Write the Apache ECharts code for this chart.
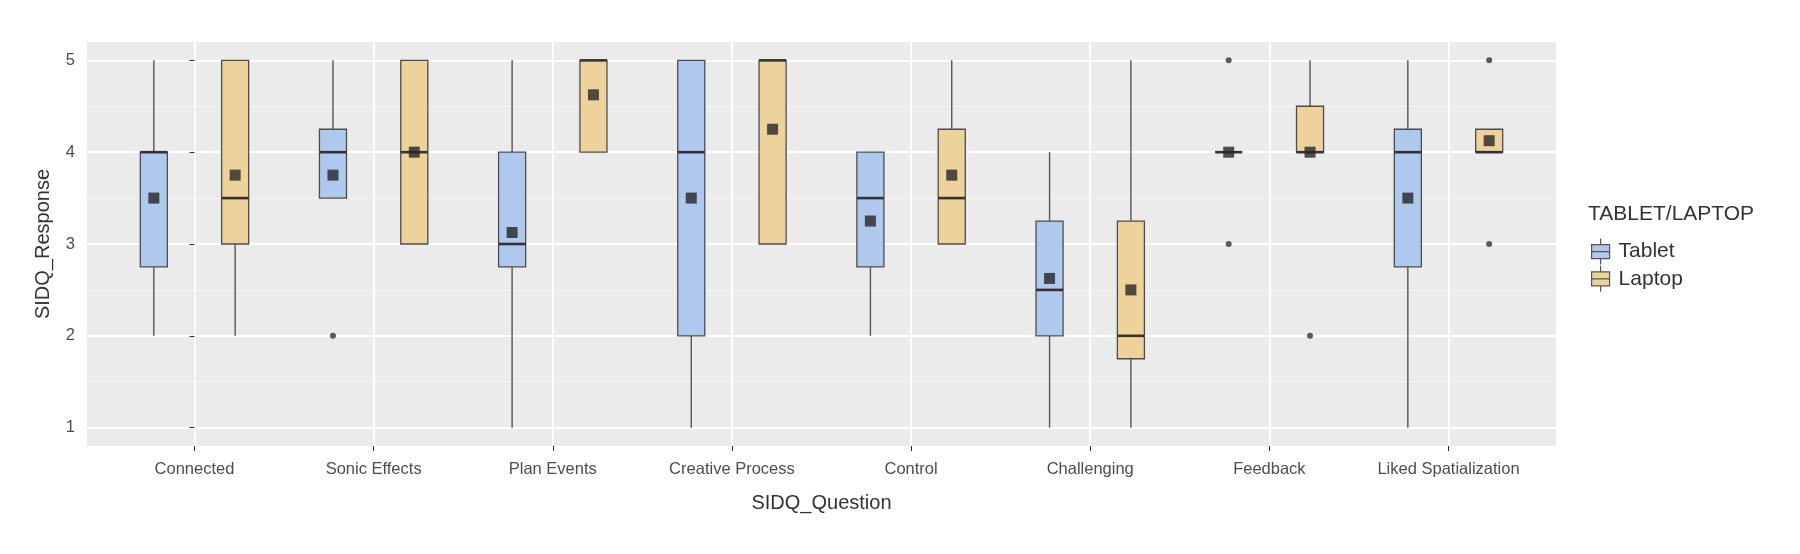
<!DOCTYPE html>
<html lang="en">
<head>
    <meta charset="UTF-8">
    <title>SIDQ boxplot</title>
    <script type="text/javascript" src="https://cdn.jsdelivr.net/npm/echarts@6/dist/echarts.min.js"></script>
    <style>
        html, body { margin: 0; padding: 0; background: #fff; }
        #chart { width: 1800px; height: 554px; }
    </style>
</head>
<body>
<div id="chart"></div>
<script type="text/javascript">
    // questions on the x axis
    var categories = ['Connected', 'Sonic Effects', 'Plan Events', 'Creative Process',
        'Control', 'Challenging', 'Feedback', 'Liked Spatialization'];
    var yTicks = [1, 2, 3, 4, 5];
    var yMinorTicks = [1.5, 2.5, 3.5, 4.5];

    // [lower whisker, Q1, median, Q3, upper whisker]
    var tabletStats = [
        [2, 2.75, 4, 4, 5],
        [3.5, 3.5, 4, 4.25, 5],
        [1, 2.75, 3, 4, 5],
        [1, 2, 4, 5, 5],
        [2, 2.75, 3.5, 4, 4],
        [1, 2, 2.5, 3.25, 4],
        [4, 4, 4, 4, 4],
        [1, 2.75, 4, 4.25, 5]
    ];
    var laptopStats = [
        [2, 3, 3.5, 5, 5],
        [3, 3, 4, 5, 5],
        [4, 4, 5, 5, 5],
        [3, 3, 5, 5, 5],
        [3, 3, 3.5, 4.25, 5],
        [1, 1.75, 2, 3.25, 5],
        [4, 4, 4, 4.5, 5],
        [4, 4, 4, 4.25, 4.25]
    ];
    var tabletMeans = [3.5, 3.75, 3.125, 3.5, 3.25, 2.625, 4, 3.5];
    var laptopMeans = [3.75, 4, 4.625, 4.25, 3.75, 2.5, 4, 4.125];

    // outliers: [category index, value]
    var tabletOutliers = [[1, 2], [6, 5], [6, 3]];
    var laptopOutliers = [[6, 2], [7, 5], [7, 3]];

    var DODGE = 0.227;     // half distance between the two boxes, in category units
    var BOX_W = 0.151;     // box width, in category units
    var TABLET_COLOR = '#afc8ee';
    var LAPTOP_COLOR = '#edd29b';

    function placed(stats, shift) {
        return stats.map(function (s, i) { return [i + shift].concat(s); });
    }
    function placedPoints(list, shift) {
        return list.map(function (p) { return [p[0] + shift, p[1]]; });
    }
    function placedMeans(means, shift) {
        return means.map(function (m, i) { return [i + shift, m]; });
    }

    function renderBox(params, api) {
        var x = api.value(0);
        var lo = api.coord([x, api.value(1)]);
        var q1 = api.coord([x, api.value(2)]);
        var md = api.coord([x, api.value(3)]);
        var q3 = api.coord([x, api.value(4)]);
        var hi = api.coord([x, api.value(5)]);
        var half = api.size([BOX_W, 0])[0] / 2;
        var cx = q1[0];
        var fill = api.visual('color');
        return {
            type: 'group',
            children: [
                { type: 'line', shape: { x1: cx, y1: hi[1], x2: cx, y2: q3[1] },
                    style: { stroke: '#555555', lineWidth: 1.4 } },
                { type: 'line', shape: { x1: cx, y1: q1[1], x2: cx, y2: lo[1] },
                    style: { stroke: '#555555', lineWidth: 1.4 } },
                { type: 'rect', shape: { x: cx - half, y: q3[1], width: half * 2, height: q1[1] - q3[1] },
                    style: { fill: fill, stroke: '#4d4d4d', lineWidth: 1.3 } },
                { type: 'line', shape: { x1: cx - half, y1: md[1], x2: cx + half, y2: md[1] },
                    style: { stroke: '#333333', lineWidth: 2.6 } }
            ]
        };
    }

    var chart = echarts.init(document.getElementById('chart'));
    var option = {
        animation: false,
        backgroundColor: '#ffffff',
        textStyle: { fontFamily: 'Liberation Sans' },
        title: {
            text: 'TABLET/LAPTOP',
            left: 1583,
            top: 199,
            textStyle: { fontSize: 21, fontWeight: 'normal', color: '#333333' }
        },
        legend: {
            orient: 'vertical',
            left: 1586,
            top: 233,
            itemWidth: 20,
            itemHeight: 26,
            itemGap: 0,
            icon: 'path://M10,0 L10,6 M1,6 L19,6 L19,20 L1,20 Z M1,13 L19,13 M10,20 L10,26',
            itemStyle: { borderColor: '#555555', borderWidth: 1.2 },
            textStyle: { fontSize: 21, color: '#333333', padding: [0, 0, 0, 3] },
            data: ['Tablet', 'Laptop']
        },
        grid: {
            left: 87,
            right: 244,
            top: 42,
            bottom: 108,
            show: true,
            backgroundColor: '#ebebeb',
            borderWidth: 0
        },
        xAxis: {
            type: 'value',
            min: -0.6,
            max: 7.6,
            name: 'SIDQ_Question',
            nameLocation: 'middle',
            nameGap: 47,
            nameTextStyle: { fontSize: 20, color: '#333333' },
            axisLine: { show: false },
            axisTick: { show: true, length: 5, lineStyle: { color: '#333333' },
                customValues: categories.map(function (c, i) { return i; }) },
            axisLabel: {
                fontSize: 16.5, color: '#4d4d4d', margin: 15,
                customValues: categories.map(function (c, i) { return i; }),
                formatter: function (v) { return categories[Math.round(v)]; }
            },
            splitLine: { show: true, lineStyle: { color: '#ffffff', width: 2 } }
        },
        yAxis: {
            type: 'value',
            min: 0.8,
            max: 5.2,
            name: 'SIDQ_Response',
            nameLocation: 'middle',
            nameGap: 34,
            nameTextStyle: { fontSize: 20, color: '#333333' },
            axisLine: { show: false },
            axisTick: { show: true, length: 5, lineStyle: { color: '#333333' }, customValues: yTicks },
            axisLabel: { fontSize: 16.5, color: '#4d4d4d', margin: 12, customValues: yTicks },
            splitLine: { show: true, lineStyle: { color: '#ffffff', width: 2 } }
        },
        series: [
            {
                type: 'scatter',
                name: 'minor',
                data: [],
                silent: true,
                z: 1,
                markLine: {
                    silent: true,
                    z: 1,
                    symbol: 'none',
                    label: { show: false },
                    lineStyle: { color: '#f5f5f5', width: 1, type: 'solid' },
                    data: yMinorTicks.map(function (v) { return { yAxis: v }; })
                }
            },
            {
                type: 'custom',
                name: 'Tablet',
                z: 3,
                itemStyle: { color: TABLET_COLOR },
                encode: { x: 0, y: [1, 2, 3, 4, 5] },
                renderItem: renderBox,
                data: placed(tabletStats, -DODGE)
            },
            {
                type: 'custom',
                name: 'Laptop',
                z: 3,
                itemStyle: { color: LAPTOP_COLOR },
                encode: { x: 0, y: [1, 2, 3, 4, 5] },
                renderItem: renderBox,
                data: placed(laptopStats, DODGE)
            },
            {
                type: 'scatter',
                name: 'outliers',
                z: 4,
                symbol: 'circle',
                symbolSize: 6,
                itemStyle: { color: '#333333' },
                data: placedPoints(tabletOutliers, -DODGE).concat(placedPoints(laptopOutliers, DODGE))
            },
            {
                type: 'scatter',
                name: 'means',
                z: 5,
                symbol: 'rect',
                symbolSize: 11,
                itemStyle: { color: '#262626' },
                data: placedMeans(tabletMeans, -DODGE).concat(placedMeans(laptopMeans, DODGE))
            }
        ]
    };
    chart.setOption(option);
</script>
</body>
</html>
